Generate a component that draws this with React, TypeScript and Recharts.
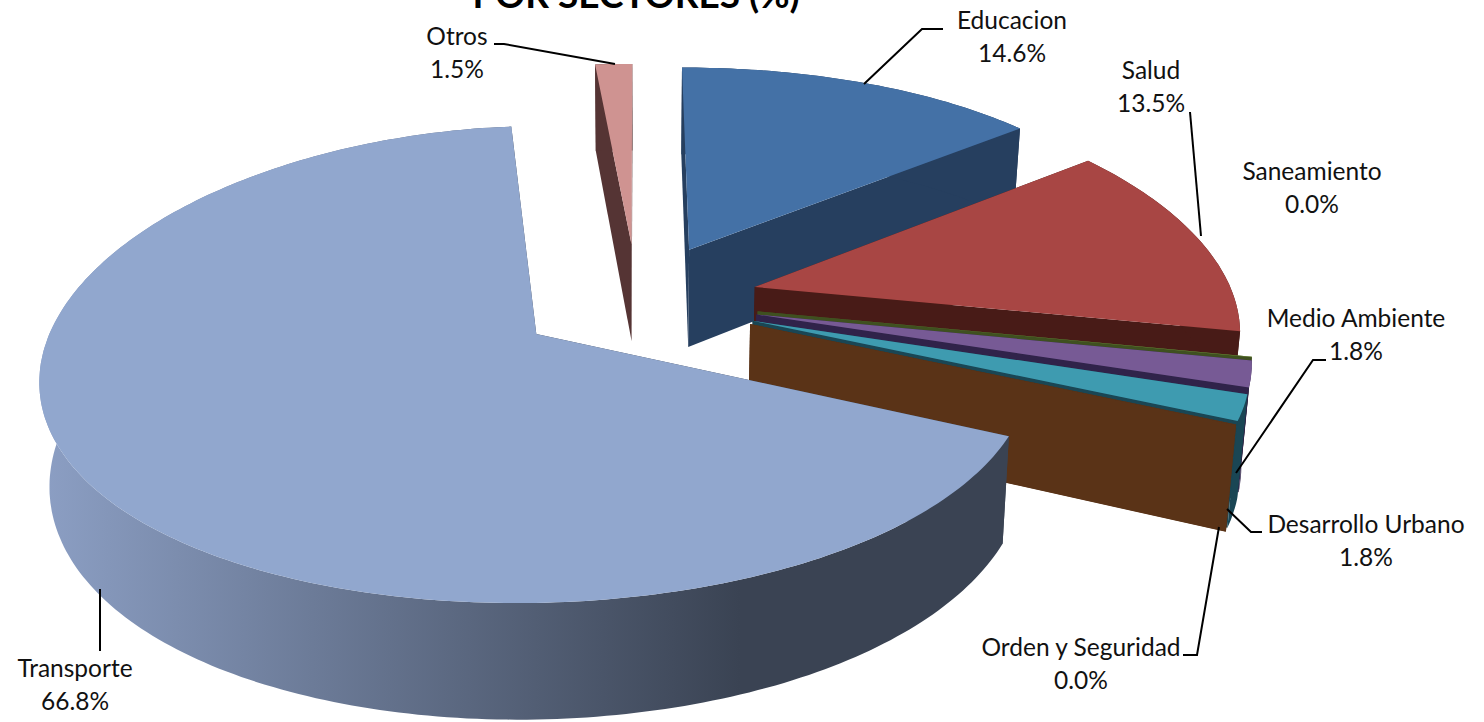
import React from 'react';
import { PieChart, Pie } from 'recharts';

const categories = ['Educacion', 'Salud', 'Saneamiento', 'Medio Ambiente', 'Desarrollo Urbano', 'Orden y Seguridad', 'Transporte', 'Otros'];
const shares = [14.6, 13.5, 0.03, 1.8, 1.8, 0.03, 66.74, 1.5];
const shownShares = ['14.6%', '13.5%', '0.0%', '1.8%', '1.8%', '0.0%', '66.8%', '1.5%'];
const topColors = ['#4471A6', '#A84644', '#6E8B3A', '#775A95', '#3E9BB0', '#5A3317', '#91A7CE', '#CF9391'];
const wallColors = ['#263F5F', '#481B17', '#3F5020', '#30234A', '#1A4654', '#5A3317', 'url(#transporteWall)', '#553434'];
const data = categories.map((name, i) => ({ name, value: shares[i] }));

// label placement: [text centre x, first line y, leader polyline]
const labelLayout: { x: number; y: number; leader: number[][] }[] = [
  { x: 1012, y: 23, leader: [[943, 29], [922, 29], [864, 84]] },
  { x: 1151, y: 73, leader: [[1190, 112], [1201, 236]] },
  { x: 1312, y: 174, leader: [] },
  { x: 1356, y: 321, leader: [[1326, 360], [1313, 360], [1236, 473]] },
  { x: 1366, y: 527, leader: [[1262, 532], [1251, 532], [1227, 509]] },
  { x: 1081, y: 650, leader: [[1183, 655], [1197, 655], [1219, 527]] },
  { x: 75, y: 671, leader: [[100, 589], [100, 651]] },
  { x: 457, y: 39, leader: [[494, 44], [504, 44], [615, 64]] },
];

const K = 0.000259;
const KX_EXTRA = 0.00008;
const LEFT_SCALE = 0.99;
const CY_SCALE = 0.4716;
const FAR_SQUASH = 0.00019;
const EXPLODE = 122;
const DEPTH = 100;
const WALL_CONVERGE = 0.983;

type P = [number, number];

function project(cx: number, cy: number, wx: number, wy: number, h = 0): P {
  const p = 1 / (1 + K * wy);
  const px = 1 / (1 + (K + KX_EXTRA) * wy);
  const squash = 1 - FAR_SQUASH * Math.max(0, wy - 400);
  const conv = 1 - (1 - WALL_CONVERGE) * (h / DEPTH);
  const side = wx < 0 ? LEFT_SCALE : 1;
  return [cx + wx * px * conv * side, cy - CY_SCALE * wy * p * squash + h * p];
}
const toPath = (pts: P[]) => 'M' + pts.map((q) => q[0].toFixed(1) + ' ' + q[1].toFixed(1)).join('L') + 'Z';

function Slice3D(props: any) {
  const { cx, cy, outerRadius, startAngle, endAngle, index } = props;
  const a0 = 90 - startAngle;
  const a1 = 90 - endAngle;
  const mid = ((a0 + a1) / 2) * (Math.PI / 180);
  const ox = Math.sin(mid) * EXPLODE;
  const oy = Math.cos(mid) * EXPLODE;
  const world = (deg: number): P => {
    const r = (deg * Math.PI) / 180;
    return [ox + Math.sin(r) * outerRadius, oy + Math.cos(r) * outerRadius];
  };
  const steps = Math.max(1, Math.ceil(a1 - a0));
  const arc: P[] = [];
  for (let s = 0; s <= steps; s++) arc.push(world(a0 + ((a1 - a0) * s) / steps));
  const top = arc.map((q) => project(cx, cy, q[0], q[1]));
  const bottom = arc.map((q) => project(cx, cy, q[0], q[1], DEPTH));
  const apexTop = project(cx, cy, ox, oy);
  const apexBottom = project(cx, cy, ox, oy, DEPTH);
  const wall = wallColors[index];
  const startFace = [apexTop, top[0], bottom[0], apexBottom];
  const endFace = [apexTop, top[top.length - 1], bottom[bottom.length - 1], apexBottom];
  const outerWall = [...top, ...[...bottom].reverse()];
  const faceColor = index === 6 ? '#3A4353' : wall;
  return (
    <g>
      {index === 6 && (
        <defs>
          <linearGradient id="transporteWall" gradientUnits="userSpaceOnUse" x1="40" y1="0" x2="740" y2="0">
            <stop offset="0" stopColor="#8C9FC4" />
            <stop offset="1" stopColor="#3A4353" />
          </linearGradient>
        </defs>
      )}
      <path d={toPath(startFace)} fill={faceColor} />
      <path d={toPath(endFace)} fill={faceColor} />
      <path d={toPath(outerWall)} fill={wall} />
      <path d={toPath([apexTop, ...top])} fill={topColors[index]} />
    </g>
  );
}

function SliceLabel(props: any) {
  const { index } = props;
  const l = labelLayout[index];
  return (
    <g>
      {l.leader.length > 0 && (
        <polyline points={l.leader.map((q) => q.join(',')).join(' ')} fill="none" stroke="#000" strokeWidth={2} />
      )}
      <text x={l.x} y={l.y} textAnchor="middle" dominantBaseline="middle" fontFamily="Lato" fontSize={24.5} fill="#111">
        {categories[index]}
      </text>
      <text x={l.x} y={l.y + 33} textAnchor="middle" dominantBaseline="middle" fontFamily="Lato" fontSize={24.5} fill="#111">
        {shownShares[index]}
      </text>
    </g>
  );
}

export default function App() {
  return (
    <div style={{ position: 'absolute', left: 0, top: 0, width: 1484, height: 722, overflow: 'hidden', background: '#fff' }}>
      <PieChart width={1484} height={722} margin={{ top: 0, right: 0, bottom: 0, left: 0 }}>
        <text x={636} y={8} textAnchor="middle" fontFamily="Lato" fontWeight={700} fontSize={37} fill="#000">
          POR SECTORES (%)
        </text>
        <Pie
          data={data}
          dataKey="value"
          nameKey="name"
          cx={637}
          cy={300}
          innerRadius={0}
          outerRadius={480}
          startAngle={90}
          endAngle={-270}
          stroke="none"
          isAnimationActive={false}
          shape={Slice3D}
          label={SliceLabel}
          labelLine={false}
        />
      </PieChart>
    </div>
  );
}
